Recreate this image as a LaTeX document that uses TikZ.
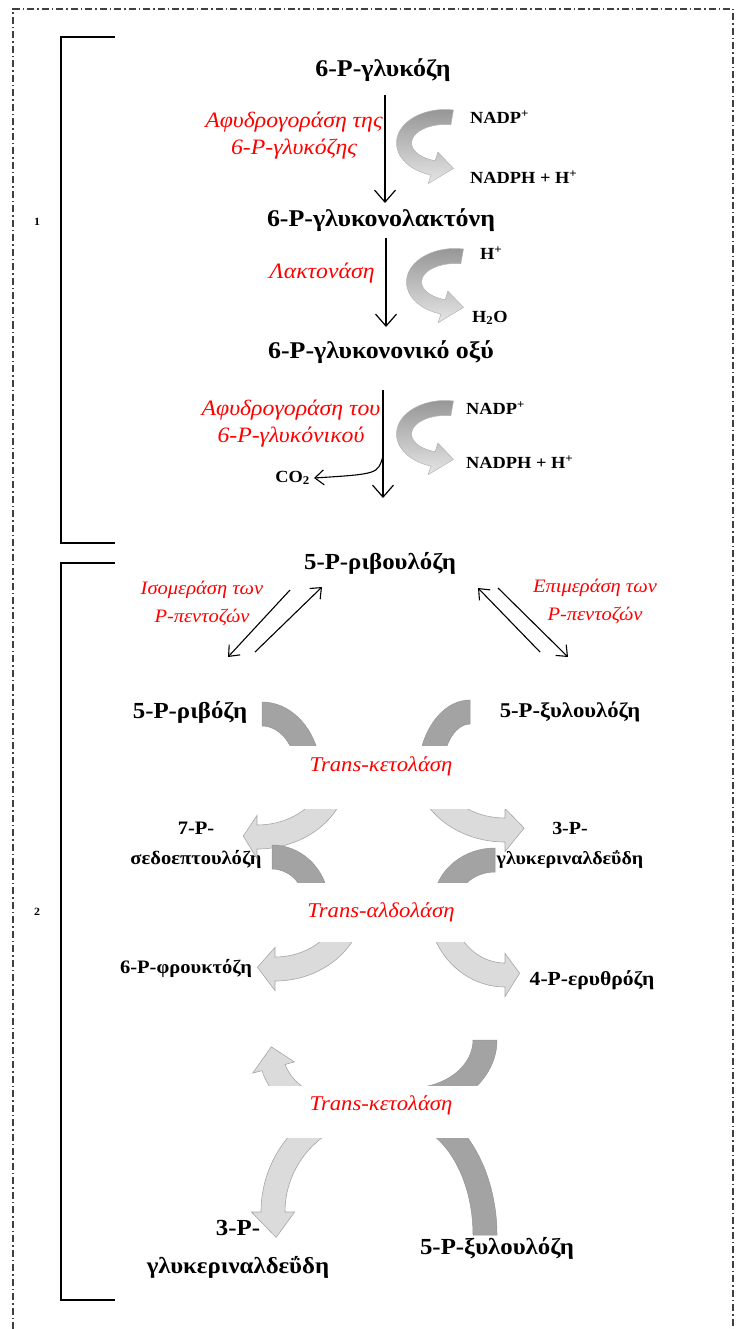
\documentclass[tikz,border=0pt]{standalone}
\usepackage{fontspec}
\setmainfont{Liberation Serif}[FakeStretch=1.08]
\usetikzlibrary{arrows.meta}
\def\bpOver{0.4}
\newcommand{\bandpiece}[9]{%
  \pgfmathsetmacro\bpRo{#3+#5/2}%
  \pgfmathsetmacro\bpRoy{#4+#5/2}%
  \pgfmathsetmacro\bpRi{#3-#5/2}%
  \pgfmathsetmacro\bpRiy{#4-#5/2}%
  \pgfmathsetmacro\bpXa{#1+\bpRo*cos(#6)}%
  \pgfmathsetmacro\bpYa{-#2+\bpRoy*sin(#6)}%
  \pgfmathsetmacro\bpXb{#1+\bpRi*cos(#7)}%
  \pgfmathsetmacro\bpYb{-#2+\bpRiy*sin(#7)}%
  \ifdim #8pt=0pt
    \path[#9] (\bpXa,\bpYa) arc[start angle=#6,end angle=#7,x radius=\bpRo,y radius=\bpRoy]
      -- (\bpXb,\bpYb) arc[start angle=#7,end angle=#6,x radius=\bpRi,y radius=\bpRiy] -- cycle;
  \else
    \pgfmathsetmacro\bpHo{#3+#5/2+\bpOver*#5}%
    \pgfmathsetmacro\bpHoy{#4+#5/2+\bpOver*#5}%
    \pgfmathsetmacro\bpHi{#3-#5/2-\bpOver*#5}%
    \pgfmathsetmacro\bpHiy{#4-#5/2-\bpOver*#5}%
    \pgfmathsetmacro\bpXc{#1+\bpHo*cos(#7)}%
    \pgfmathsetmacro\bpYc{-#2+\bpHoy*sin(#7)}%
    \pgfmathsetmacro\bpXd{#1+\bpHi*cos(#7)}%
    \pgfmathsetmacro\bpYd{-#2+\bpHiy*sin(#7)}%
    \pgfmathsetmacro\bpXt{#1+#3*cos(#7+(#8))}%
    \pgfmathsetmacro\bpYt{-#2+#4*sin(#7+(#8))}%
    \path[#9] (\bpXa,\bpYa) arc[start angle=#6,end angle=#7,x radius=\bpRo,y radius=\bpRoy]
      -- (\bpXc,\bpYc) -- (\bpXt,\bpYt) -- (\bpXd,\bpYd) -- (\bpXb,\bpYb)
      arc[start angle=#7,end angle=#6,x radius=\bpRi,y radius=\bpRiy] -- cycle;
  \fi}
\begin{document}
\begin{tikzpicture}[x=1pt,y=1pt,
  metab/.style={font=\bfseries\fontsize{20}{30}\selectfont, inner sep=0pt, align=center},
  big/.style={font=\bfseries\fontsize{24}{30}\selectfont},
  enz/.style={font=\itshape\fontsize{19}{28}\selectfont, text=red, inner sep=0pt, align=center},
  trans/.style={font=\itshape\fontsize{21}{26}\selectfont, text=red, inner sep=0pt},
  cof/.style={font=\bfseries\fontsize{17}{19}\selectfont, inner sep=0pt, anchor=west},
  flow/.style={line width=1.2pt, -{Straight Barb[length=12pt,width=21pt]}},
  eq/.style={line width=1.1pt, -{Straight Barb[length=9pt,width=15pt]}},
  bracket/.style={line width=1.4pt},
  dark/.style={fill=black!36, draw=black!42, line width=0.5pt},
  light/.style={fill=black!14, draw=black!35, line width=0.6pt},
  grad/.style={top color=black!42, bottom color=black!10, draw=black!30, line width=0.5pt},
]
\useasboundingbox (0,0) rectangle (742,-1329);
% frame
\draw[line width=1.1pt, black!75, dash pattern=on 7pt off 3pt on 1.5pt off 3pt]
  (13,-1329) -- (13,-9) -- (733,-9) -- (733,-1329);
% brackets
\draw[bracket] (115,-37) -- (61,-37) -- (61,-543) -- (115,-543);
\draw[bracket] (115,-563) -- (61,-563) -- (61,-1300) -- (115,-1300);
\node[font=\bfseries\fontsize{11}{13}\selectfont] (n1) at (37,-222) {1};
\node[font=\bfseries\fontsize{11}{13}\selectfont] (n2) at (37,-912) {2};

% metabolites
\node[metab, big] (glc) at (383,-70) {6-P-γλυκόζη};
\node[metab, big] (lac) at (381,-220) {6-P-γλυκονολακτόνη};
\node[metab, big] (gluc) at (381,-352) {6-P-γλυκονονικό οξύ};
\node[metab, font=\bfseries\fontsize{23}{30}\selectfont] (rul) at (380,-563) {5-P-ριβουλόζη};
\node[metab, font=\bfseries\fontsize{23}{30}\selectfont] (rib) at (190,-712) {5-P-ριβόζη};
\node[metab, font=\bfseries\fontsize{21}{30}\selectfont] (xul) at (570,-712) {5-P-ξυλουλόζη};
\node[metab, font=\bfseries\fontsize{19}{30}\selectfont] (sed) at (196,-845) {7-P-\\σεδοεπτουλόζη};
\node[metab, font=\bfseries\fontsize{18.5}{30}\selectfont] (gap) at (570,-845) {3-P-\\γλυκεριναλδεΰδη};
\node[metab, font=\bfseries\fontsize{19}{30}\selectfont] (fru) at (186,-968) {6-P-φρουκτόζη};
\node[metab] (ery) at (592,-980) {4-P-ερυθρόζη};
\node[metab, font=\bfseries\fontsize{23}{38}\selectfont] (gapb) at (238,-1249) {3-P-\\γλυκεριναλδεΰδη};
\node[metab, font=\bfseries\fontsize{23}{30}\selectfont] (xulb) at (497,-1248) {5-P-ξυλουλόζη};

% enzymes (top)
\node[enz, font=\itshape\fontsize{22}{27}\selectfont] (e1) at (294,-136) {Αφυδρογοράση της\\6-P-γλυκόζης};
\node[enz, font=\itshape\fontsize{22}{27}\selectfont] (e2) at (322,-273) {Λακτονάση};
\node[enz, font=\itshape\fontsize{22}{27}\selectfont] (e3) at (291,-424) {Αφυδρογοράση του\\6-P-γλυκόνικού};
\node[enz] (e4) at (202,-603) {Ισομεράση των\\P-πεντοζών};
\node[enz] (e5) at (595,-601) {Επιμεράση των\\P-πεντοζών};

% cofactors
\node[cof] (c1a) at (470,-117) {NADP\textsuperscript{+}};
\node[cof] (c1b) at (470,-177) {NADPH + H\textsuperscript{+}};
\node[cof] (c2a) at (480,-253) {H\textsuperscript{+}};
\node[cof] (c2b) at (472,-318) {H\textsubscript{2}O};
\node[cof] (c3a) at (466,-408) {NADP\textsuperscript{+}};
\node[cof] (c3b) at (466,-462) {NADPH + H\textsuperscript{+}};
\node[cof, anchor=east] (co2) at (310,-478) {CO\textsubscript{2}};

% main vertical arrows
\coordinate (v1s) at (385,-95);  \coordinate (v1e) at (385,-203);
\coordinate (v2s) at (386,-238); \coordinate (v2e) at (386,-327);
\coordinate (v3s) at (383,-390); \coordinate (v3e) at (383,-498);
\draw[flow] (v1s) -- (v1e);
\draw[flow] (v2s) -- (v2e);
\draw[flow] (v3s) -- (v3e);
\coordinate (co2s) at (383,-456);
\draw[eq] (co2s) .. controls (378,-474) .. ([xshift=4pt]co2.east);

% cofactor U-turn arrows
\def\bpOver{0.6}
\bandpiece{445}{143}{41}{26}{15}{80}{253}{29}{grad}
\bandpiece{455}{282}{41}{26}{15}{80}{253}{29}{grad}
\bandpiece{445}{434}{41}{26}{15}{80}{253}{29}{grad}
\def\bpOver{0.4}

% equilibria around ribulose
\coordinate (l1s) at (290,-590); \coordinate (l1e) at (228,-657);
\coordinate (l2s) at (255,-652); \coordinate (l2e) at (322,-587);
\coordinate (r1s) at (540,-652); \coordinate (r1e) at (478,-588);
\coordinate (r2s) at (498,-588); \coordinate (r2e) at (568,-657);
\draw[eq] (l1s) -- (l1e);
\draw[eq] (l2s) -- (l2e);
\draw[eq] (r1s) -- (r1e);
\draw[eq] (r2s) -- (r2e);

% group 1: trans-ketolase
\begin{scope}
  \clip (0,0) rectangle (742,-745);
  \bandpiece{262}{775}{47}{61}{24}{90}{15}{0}{dark}
  \bandpiece{470}{775}{40}{63}{24}{90}{165}{0}{dark}
\end{scope}
\begin{scope}
  \clip (0,-809) rectangle (742,-1329);
  \bandpiece{257}{772}{79}{65}{24}{-25}{-90}{-10}{light}
  \bandpiece{505}{765}{79}{65}{24}{-155}{-90}{14}{light}
\end{scope}
\node[trans] (tk1) at (381,-766) {Trans-κετολάση};

% group 2: trans-aldolase
\begin{scope}
  \clip (0,0) rectangle (742,-882);
  \bandpiece{272}{905}{45}{48}{24}{90}{10}{0}{dark}
  \bandpiece{495}{905}{50}{45}{24}{90}{170}{0}{dark}
\end{scope}
\begin{scope}
  \clip (0,-942) rectangle (742,-1329);
  \bandpiece{275}{900}{78}{69}{24}{-25}{-90}{-13}{light}
  \bandpiece{505}{905}{65}{70}{24}{-155}{-90}{13}{light}
\end{scope}
\node[trans] (ta) at (381,-912) {Trans-αλδολάση};

% group 3: trans-ketolase
\begin{scope}
  \clip (0,0) rectangle (742,-1085);
  \bandpiece{410}{1040}{75}{60}{24}{0}{-100}{0}{dark}
  \bandpiece{346}{1052}{75}{60}{24}{280}{195}{-20}{light}
\end{scope}
\begin{scope}
  \clip (0,-1138) rectangle (742,-1329);
  \bandpiece{378}{1212}{105}{105}{24}{90}{180}{14}{light}
  \bandpiece{398}{1235}{87}{125}{24}{100}{0}{0}{dark}
\end{scope}
\node[trans] (tk2) at (381,-1105) {Trans-κετολάση};
\end{tikzpicture}
\end{document}
